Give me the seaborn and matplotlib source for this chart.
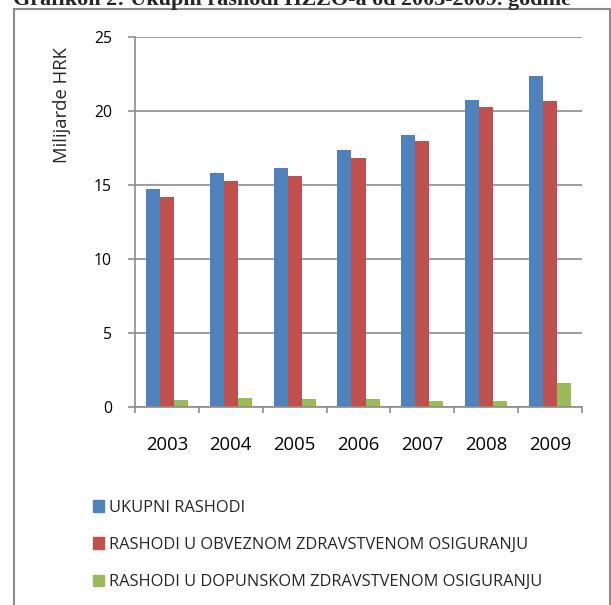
import matplotlib
matplotlib.use("Agg")
import matplotlib.pyplot as plt
import matplotlib.patches as mpatches
import seaborn as sns
import pandas as pd

years = ["2003", "2004", "2005", "2006", "2007", "2008", "2009"]
series = [
    "UKUPNI RASHODI",
    "RASHODI U OBVEZNOM ZDRAVSTVENOM OSIGURANJU",
    "RASHODI U DOPUNSKOM ZDRAVSTVENOM OSIGURANJU",
]
ukupni = [14.71, 15.83, 16.13, 17.37, 18.38, 20.73, 22.35]
obvezno = [14.21, 15.25, 15.59, 16.81, 17.96, 20.30, 20.66]
dopunsko = [0.47, 0.59, 0.56, 0.54, 0.43, 0.41, 1.65]
colors = ["#4F81BD", "#C0504D", "#9BBB59"]

df = pd.DataFrame({
    "year": years * 3,
    "value": ukupni + obvezno + dopunsko,
    "series": [series[0]] * 7 + [series[1]] * 7 + [series[2]] * 7,
})

sns.set_theme(style="white")
plt.rcParams["font.family"] = ["Open Sans", "DejaVu Sans"]

W, H = 611, 605
fig = plt.figure(figsize=(W / 100, H / 100), dpi=100)
ax = fig.add_axes([135 / W, (H - 407) / H, (582 - 135) / W, (407 - 37) / H])

sns.barplot(data=df, x="year", y="value", hue="series", palette=colors,
            width=0.66, gap=0, saturation=1, linewidth=0, legend=False, ax=ax)

grid_c = "#8C8C8C"
ax.set_ylim(0, 25)
ax.set_xlim(-0.5, 6.5)
ax.set_yticks([0, 5, 10, 15, 20, 25])
ax.yaxis.grid(True, color=grid_c, linewidth=1.2)
ax.set_axisbelow(True)
for s in ["top", "right"]:
    ax.spines[s].set_visible(False)
for s in ["left", "bottom"]:
    ax.spines[s].set_color(grid_c)
    ax.spines[s].set_linewidth(1.2)
ax.set_xlabel("")
ax.set_ylabel("")
ax.tick_params(axis="y", length=5, width=1.2, color=grid_c, labelsize=11.3,
               labelcolor="black", pad=11.5, left=True)
ax.set_xticks(range(7))
ax.set_xticklabels(years)
ax.set_xticks([i - 0.5 for i in range(8)], minor=True)
ax.tick_params(axis="x", which="major", length=0, labelsize=13.3, pad=21,
               labelcolor="black")
ax.tick_params(axis="x", which="minor", length=4, width=1.2, color=grid_c,
               bottom=True)

fig.text(62 / W, 1 - 105 / H, "Milijarde HRK", rotation=90, ha="center",
         va="center", fontsize=13.3)

fig.text(13 / W, 1 - 5 / H, "Grafikon 2: Ukupni rashodi HZZO-a od 2003-2009. godine",
         ha="left", va="baseline", fontsize=15.9, fontweight="bold",
         family=["Liberation Serif", "DejaVu Serif"])

# outer frame
fig.add_artist(mpatches.Rectangle((14 / W, -0.01), (610 - 14) / W, 1 - 9 / H + 0.01,
                                  transform=fig.transFigure, fill=False,
                                  edgecolor=grid_c, linewidth=1.5))

handles = [mpatches.Patch(color=c, label=s) for c, s in zip(colors, series)]
fig.legend(handles=handles, loc="upper left",
           bbox_to_anchor=(86 / W, 1 - 493 / H), frameon=False,
           fontsize=11.8, handlelength=0.7, handleheight=0.7,
           handletextpad=0.3, labelspacing=1.3, borderaxespad=0)

fig.savefig("out.png", dpi=100)
